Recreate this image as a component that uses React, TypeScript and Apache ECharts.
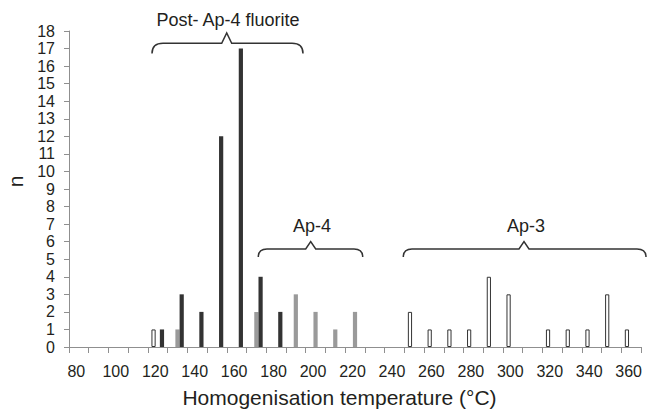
import React, { useEffect, useRef } from "react";
import * as echarts from "echarts";

const FONT = '"Liberation Sans", Arial, Helvetica, sans-serif';
const TEXT = "#231f20";
const AXIS = "#8f8f8f";

const categories = [
  "80", "90", "100", "110", "120", "130", "140", "150", "160", "170",
  "180", "190", "200", "210", "220", "230", "240", "250", "260", "270",
  "280", "290", "300", "310", "320", "330", "340", "350", "360",
];

// Ap-3 (white bars)
const ap3Counts = [
  null, null, null, null, 1, null, null, null, null, null,
  null, null, null, null, null, null, null, 2, 1, 1,
  1, 4, 3, null, 1, 1, 1, 3, 1,
];
// Ap-4 (grey bars)
const ap4Counts = [
  null, null, null, null, null, 1, null, null, null, 2,
  null, 3, 2, 1, 2, null, null, null, null, null,
  null, null, null, null, null, null, null, null, null,
];
// Post-Ap-4 fluorite (dark bars)
const postAp4Counts = [
  null, null, null, null, 1, 3, 2, 12, 17, 4,
  2, null, null, null, null, null, null, null, null, null,
  null, null, null, null, null, null, null, null, null,
];

const yTicksMax = 18;

const braceLabels = ["Post- Ap-4 fluorite", "Ap-4", "Ap-3"];

echarts.graphic.registerShape(
  "brace1",
  echarts.graphic.extendPath(
    "M152,53.5 Q152,43.3 163,43.3 L221.7,43.3 L226.7,33 L231.7,43.3 L292,43.3 Q303,43.3 303,53.5",
    {}
  )
);
echarts.graphic.registerShape(
  "brace2",
  echarts.graphic.extendPath(
    "M258.3,257 Q258.3,249 267,249 L305.7,249 L310.7,241.7 L315.7,249 L354,249 Q362.7,249 362.7,257",
    {}
  )
);
echarts.graphic.registerShape(
  "brace3",
  echarts.graphic.extendPath(
    "M403.3,257 Q403.3,249 412,249 L519,249 L524,241.7 L529,249 L637,249 Q646,249 646,257",
    {}
  )
);

export default function App() {
  const ref = useRef<HTMLDivElement>(null);

  useEffect(() => {
    if (!ref.current) return;
    const chart = echarts.init(ref.current, null, { renderer: "svg" });
    const braceStyle = { fill: "none", stroke: "#333333", lineWidth: 1.5 };
    chart.setOption({
      animation: false,
      grid: {
        left: 69, right: 19, top: 31, bottom: 63,
        containLabel: false,
        outerBoundsMode: "none",
      },
      xAxis: {
        type: "category",
        data: categories,
        boundaryGap: true,
        axisLine: { lineStyle: { color: AXIS, width: 1 } },
        axisTick: { show: true, interval: 0, length: 6, lineStyle: { color: AXIS } },
        axisLabel: {
          interval: 1, fontSize: 16, color: TEXT, margin: 16, fontFamily: FONT,
          padding: [0, 5, 0, 0],
        },
        splitLine: { show: false },
        name: "Homogenisation temperature (°C)",
        nameLocation: "middle",
        nameGap: 40,
        nameTextStyle: { fontSize: 21, color: TEXT, fontFamily: FONT, padding: [0, 31, 0, 0] },
      },
      yAxis: {
        type: "value",
        min: 0,
        max: yTicksMax,
        interval: 1,
        splitLine: { show: false },
        axisLine: { show: true, lineStyle: { color: AXIS, width: 1 } },
        axisTick: { show: true, length: 5, lineStyle: { color: AXIS } },
        axisLabel: { fontSize: 16, color: TEXT, margin: 14, fontFamily: FONT },
        name: "n",
        nameLocation: "middle",
        nameGap: 38,
        nameTextStyle: { fontSize: 21, color: TEXT, fontFamily: FONT, padding: [0, 0, 0, 15] },
      },
      series: [
        {
          name: "Ap-3",
          type: "bar",
          data: ap3Counts,
          barGap: "0%",
          barCategoryGap: "36%",
          itemStyle: { color: "#ffffff", borderColor: "#333333", borderWidth: 1 },
        },
        {
          name: "Ap-4",
          type: "bar",
          data: ap4Counts,
          barGap: "0%",
          barCategoryGap: "36%",
          itemStyle: { color: "#9a9a9a" },
        },
        {
          name: "Post-Ap-4 fluorite",
          type: "bar",
          data: postAp4Counts,
          barGap: "0%",
          barCategoryGap: "36%",
          itemStyle: { color: "#333333" },
        },
      ],
      graphic: [
        { type: "brace1", x: 0, y: 0, style: braceStyle, silent: true },
        { type: "brace2", x: 0, y: 0, style: braceStyle, silent: true },
        { type: "brace3", x: 0, y: 0, style: braceStyle, silent: true },
        {
          type: "text", x: 228, y: 20,
          style: { text: braceLabels[0], fill: TEXT, font: `18px ${FONT}`, textAlign: "center", textVerticalAlign: "middle" },
        },
        {
          type: "text", x: 312, y: 226,
          style: { text: braceLabels[1], fill: TEXT, font: `18px ${FONT}`, textAlign: "center", textVerticalAlign: "middle" },
        },
        {
          type: "text", x: 526, y: 226,
          style: { text: braceLabels[2], fill: TEXT, font: `18px ${FONT}`, textAlign: "center", textVerticalAlign: "middle" },
        },
      ],
    });
    return () => chart.dispose();
  }, []);

  return (
    <div
      ref={ref}
      style={{ position: "absolute", left: 0, top: 0, width: 660, height: 410, background: "#fff" }}
    />
  );
}
